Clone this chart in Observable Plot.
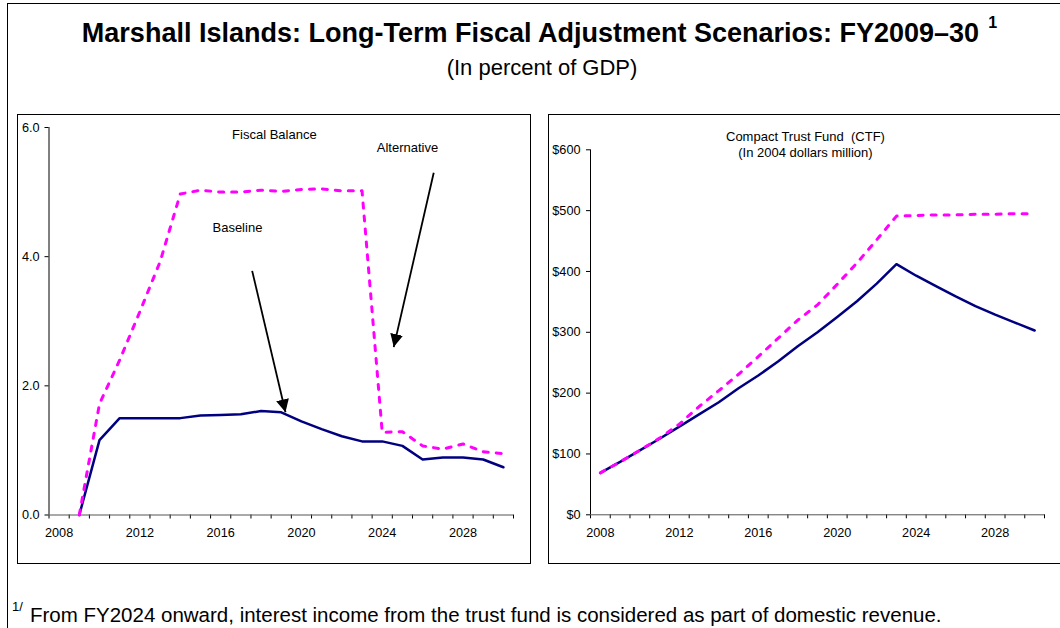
<!DOCTYPE html>
<html>
<head>
<meta charset="utf-8">
<script src="https://cdn.jsdelivr.net/npm/d3@7"></script>
<script src="https://cdn.jsdelivr.net/npm/@observablehq/plot@0.6"></script>
<style>
  html, body { margin: 0; padding: 0; background: #fff; width: 1060px; height: 628px; overflow: hidden; }
  body { position: relative; font-family: "Liberation Sans", Arial, sans-serif; color: #000; }
  #frame { position: absolute; left: 7px; top: 3px; width: 1100px; height: 700px; border-left: 1px solid #000; border-top: 1px solid #000; }
  .panel { position: absolute; top: 114px; height: 450px; border: 1.5px solid #000; box-sizing: border-box; }
  #leftPanel { left: 17px; width: 514px; }
  #rightPanel { left: 548px; width: 540px; border-right: none; }
  .chart { position: absolute; top: 115px; height: 448px; }
  #leftChart { left: 18px; width: 512px; }
  #rightChart { left: 549px; width: 511px; }
  .title { position: absolute; left: 0; width: 1061px; top: 20px; text-align: center; font-weight: bold; font-size: 27px; line-height: 1; white-space: nowrap; }
  .title .supwrap { position: relative; }
  .title .sup { position: absolute; left: 100%; top: -3px; margin-left: 9px; font-size: 16px; }
  .subtitle { position: absolute; left: 0; width: 1084px; top: 57px; text-align: center; font-size: 22px; line-height: 1; white-space: nowrap; }
  .foot { position: absolute; left: 30px; top: 605px; font-size: 20.5px; line-height: 1; white-space: nowrap; }
  .footsup { position: absolute; left: 12px; top: 600px; font-size: 13px; line-height: 1; }
</style>
</head>
<body>
<div id="frame"></div>
<div class="title"><span class="supwrap">Marshall Islands: Long-Term Fiscal Adjustment Scenarios: FY2009–30<span class="sup">1</span></span></div>
<div class="subtitle">(In percent of GDP)</div>
<div id="leftPanel" class="panel"></div>
<div id="rightPanel" class="panel"></div>
<div id="leftChart" class="chart"></div>
<div id="rightChart" class="chart"></div>
<div class="footsup">1/</div>
<div class="foot">From FY2024 onward, interest income from the trust fund is considered as part of domestic revenue.</div>
<script>
// ---- Data ----
const fiscalYears = [2009,2010,2011,2012,2013,2014,2015,2016,2017,2018,2019,2020,2021,2022,2023,2024,2025,2026,2027,2028,2029,2030];
const fiscalBaseline = [0.0,1.16,1.50,1.50,1.50,1.50,1.54,1.55,1.56,1.61,1.59,1.45,1.33,1.22,1.14,1.14,1.07,0.86,0.89,0.89,0.86,0.74];
const fiscalAlternative = [0.0,1.72,2.40,3.15,3.92,4.97,5.03,5.00,5.00,5.03,5.01,5.04,5.05,5.02,5.02,1.28,1.29,1.07,1.02,1.10,0.98,0.95];

const ctfYears = [2008,2009,2010,2011,2012,2013,2014,2015,2016,2017,2018,2019,2020,2021,2022,2023,2024,2025,2026,2027,2028,2029,2030];
const ctfBaseline = [69,87,106,125,145,165,185,208,229,252,277,300,325,351,380,412,393,376,359,343,329,316,303];
const ctfAlternative = [69,87,106,126,149,178,204,231,260,290,320,345,379,414,452,491,492,493,493,494,494,495,495];

const yearLabels = [2008,2012,2016,2020,2024,2028];
const categoryEdges = d3.range(2007.5, 2031, 1);
const fiscalTicks = [0,2,4,6];
const ctfTicks = [0,100,200,300,400,500,600];

// annotations (data coordinates)
const fiscalNoteText = ["Fiscal Balance","Alternative","Baseline"];
const fiscalNoteYear = [2018.66,2025.25,2016.83];
const fiscalNoteValue = [5.88,5.68,4.44];
const arrowFromYear = [2017.56,2026.55];
const arrowFromValue = [3.78,5.30];
const arrowToYear = [2019.21,2024.57];
const arrowToValue = [1.59,2.60];
const ctfNoteText = ["Compact Trust Fund \u00a0(CTF)","(In 2004 dollars million)"];
const ctfNoteYear = [2018.39,2018.39];
const ctfNoteValue = [622,594.5];

const navy = "#000080", magenta = "#ff00ff";
const font = "'Liberation Sans', Arial, sans-serif";

const rows = (xs, ys) => xs.map((x, i) => ({year: x, value: ys[i]}));
const fbRows = rows(fiscalYears, fiscalBaseline);
const faRows = rows(fiscalYears, fiscalAlternative);
const cbRows = rows(ctfYears, ctfBaseline);
const caRows = rows(ctfYears, ctfAlternative);
const fNotes = fiscalNoteText.map((t, i) => ({t, x: fiscalNoteYear[i], y: fiscalNoteValue[i]}));
const fArrows = arrowFromYear.map((x, i) => ({x1: x, y1: arrowFromValue[i], x2: arrowToYear[i], y2: arrowToValue[i]}));
const cNotes = ctfNoteText.map((t, i) => ({t, x: ctfNoteYear[i], y: ctfNoteValue[i]}));

const styleBase = {fontFamily: font, fontSize: "12.7px", color: "#000", background: "transparent", overflow: "visible"};

const left = Plot.plot({
  width: 512, height: 448,
  marginLeft: 30.5, marginRight: 17, marginTop: 12, marginBottom: 48.5,
  style: styleBase,
  x: {domain: [2007.5, 2030.5]},
  y: {domain: [0, 6]},
  marks: [
    Plot.axisY({ticks: fiscalTicks, tickFormat: d3.format(".1f"), tickSize: 4, tickPadding: 5.4, label: null}),
    Plot.axisX({ticks: categoryEdges, tickFormat: () => "", tickSize: 4, label: null}),
    Plot.axisX({ticks: yearLabels, tickFormat: d => String(d), tickSize: 0, tickPadding: 13.4, label: null}),
    Plot.ruleX([2007.5], {y1: 0, y2: 6, stroke: "#000"}),
    Plot.ruleY([0], {x1: 2007.5, x2: 2030.5, stroke: "#555"}),
    Plot.line(fbRows, {x: "year", y: "value", stroke: navy, strokeWidth: 2.5}),
    Plot.line(faRows, {x: "year", y: "value", stroke: magenta, strokeWidth: 3, strokeDasharray: "5,8"}),
    Plot.link(fArrows, {x1: "x1", y1: "y1", x2: "x2", y2: "y2", stroke: "#000", strokeWidth: 1.8}),
    Plot.text(fNotes, {x: "x", y: "y", text: "t", fontSize: 13, fill: "#000"})
  ]
});

const right = Plot.plot({
  width: 511, height: 448,
  marginLeft: 41, marginRight: 16, marginTop: 34.3, marginBottom: 48.7,
  style: styleBase,
  x: {domain: [2007.5, 2030.5]},
  y: {domain: [0, 600]},
  marks: [
    Plot.axisY({ticks: ctfTicks, tickFormat: d => "$" + d, tickSize: 4, tickPadding: 6, label: null}),
    Plot.axisX({ticks: categoryEdges, tickFormat: () => "", tickSize: 4, label: null}),
    Plot.axisX({ticks: yearLabels, tickFormat: d => String(d), tickSize: 0, tickPadding: 13.4, label: null}),
    Plot.ruleX([2007.5], {y1: 0, y2: 600, stroke: "#000"}),
    Plot.ruleY([0], {x1: 2007.5, x2: 2030.5, stroke: "#555"}),
    Plot.line(cbRows, {x: "year", y: "value", stroke: navy, strokeWidth: 2.5}),
    Plot.line(caRows, {x: "year", y: "value", stroke: magenta, strokeWidth: 3, strokeDasharray: "5,8"}),
    Plot.text(cNotes, {x: "x", y: "y", text: "t", fontSize: 13, fill: "#000"})
  ]
});

document.getElementById("leftChart").appendChild(left);
document.getElementById("rightChart").appendChild(right);

// filled arrowheads on the annotation links
const svgL = d3.select(left);
svgL.insert("defs", ":first-child")
  .append("marker")
  .attr("id", "headL").attr("viewBox", "0 0 13 13").attr("refX", 13).attr("refY", 6.5)
  .attr("markerWidth", 13).attr("markerHeight", 13).attr("markerUnits", "userSpaceOnUse").attr("orient", "auto")
  .append("path").attr("d", "M0,0L13,6.5L0,13Z").attr("fill", "#000");
svgL.selectAll('g[aria-label="link"] path').attr("marker-end", "url(#headL)");
</script>
</body>
</html>
